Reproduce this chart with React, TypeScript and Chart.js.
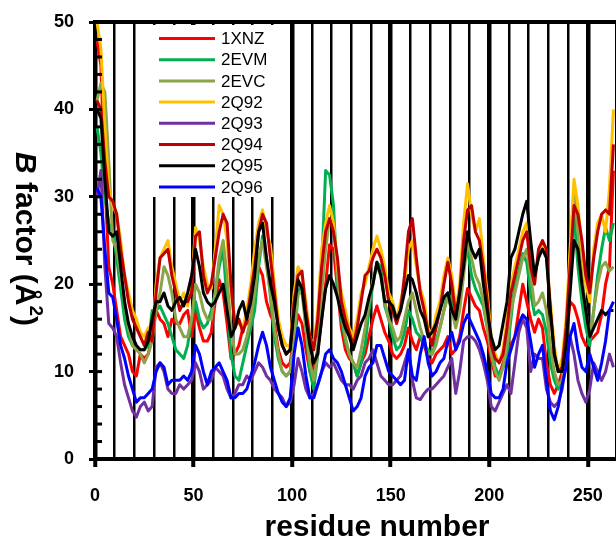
import { useEffect, useRef } from 'react';
import { Chart, registerables } from 'chart.js';

Chart.register(...registerables);

const FONT = 'Arial, "Liberation Sans", sans-serif';

const residues = [
  1, 3, 5, 7, 9, 11, 13, 15, 17, 19,
  21, 23, 25, 27, 29, 31, 33, 35, 37, 39,
  41, 43, 45, 47, 49, 51, 53, 55, 57, 59,
  61, 63, 65, 67, 69, 71, 73, 75, 77, 79,
  81, 83, 85, 87, 89, 91, 93, 95, 97, 99,
  101, 103, 105, 107, 109, 111, 113, 115, 117, 119,
  121, 123, 125, 127, 129, 131, 133, 135, 137, 139,
  141, 143, 145, 147, 149, 151, 153, 155, 157, 159,
  161, 163, 165, 167, 169, 171, 173, 175, 177, 179,
  181, 183, 185, 187, 189, 191, 193, 195, 197, 199,
  201, 203, 205, 207, 209, 211, 213, 215, 217, 219,
  221, 223, 225, 227, 229, 231, 233, 235, 237, 239,
  241, 243, 245, 247, 249, 251, 253, 255, 257, 259,
  261, 263,
];

const s1XNZ = [
  48, 45, 32, 22, 20, 17, 14, 13, 12, 10,
  9.5, 12, 11.5, 12, 14, 17, 16, 15.5, 14, 16,
  15.5, 15.5, 16.5, 17, 14, 17, 15, 13.5, 13.5, 14.5,
  18, 20.5, 19, 15.5, 11.5, 12, 13, 15, 15.5, 16,
  19, 22, 21, 18, 16.5, 15.5, 12.5, 11, 10.5, 11,
  14, 16.5, 15.5, 12.5, 10, 10.5, 12.5, 16, 20, 24.5,
  24, 19.5, 15, 12.5, 11.5, 11, 9.5, 11, 12, 14,
  16, 17.5, 16, 14.5, 13.5, 12, 11.5, 12, 13, 15,
  13.5, 12.5, 14, 13, 11.5, 11, 12, 12.5, 13, 14,
  12, 12.5, 14, 17, 19.5, 18.5, 17.5, 17, 15, 13.5,
  11.5, 9.5, 9.5, 11, 12.5, 13, 14, 17, 20, 18,
  16, 14.5, 16, 15, 11, 8.5, 7.5, 8.5, 10, 13.5,
  18, 17.5, 16, 14, 13, 13.5, 14, 14.5, 16.5, 20,
  22, 33,
];

const s2EVM = [
  38, 35, 30, 27, 26, 23, 19.5, 16, 14, 13,
  12.5, 12.5, 12.5, 13, 17, 17, 17.5, 16.5, 15.5, 14,
  12.5, 12, 11.5, 13, 16, 18, 16, 15, 15.5, 17,
  19, 22, 24, 18, 12, 9.5, 9, 11, 13, 15,
  17, 22, 25.5, 23, 18.5, 14, 11.5, 10, 9.5, 10,
  13, 19, 20, 15, 10, 8, 12, 22, 33, 32.5,
  29, 20, 16, 13.5, 12, 11, 9.5, 11, 13, 17,
  20, 22.5, 22, 17.5, 16, 14, 12.5, 13, 14.5, 17,
  16, 14.5, 14, 13, 12.5, 12, 13.5, 15, 17, 19,
  18, 16, 19, 22, 24, 21, 19.5, 18.5, 17.5, 15,
  13, 10.5, 9.5, 10.5, 12, 16, 20, 21.5, 23.5, 22.5,
  19, 16.5, 17, 16.5, 14.5, 11, 9, 8, 9, 13,
  22, 28, 22, 18, 15, 13, 17, 21, 24, 26.5,
  25, 27,
];

const s2EVC = [
  41, 43, 42, 34, 25, 24, 21, 18, 15, 13,
  12.5, 12, 11, 12, 13.5, 17, 19, 22, 21, 19,
  16, 15, 14, 14, 16, 20, 19, 17, 16, 16,
  19, 23, 25, 21, 15, 12, 12, 12.5, 14, 16,
  19, 23, 25, 22, 19, 15, 12, 10, 9.5, 10,
  14, 19, 19, 15, 11, 9, 12, 19, 24, 27.5,
  27, 21, 17, 14, 12, 11, 10.5, 12.5, 15, 18,
  20.5, 22, 21, 18, 16, 15, 13.5, 14, 16, 18,
  19, 17, 15, 13.5, 12, 12, 13, 15, 17, 18.5,
  17, 15, 17, 21, 25, 23, 21, 20, 18, 15,
  12, 10, 9, 10.5, 13, 17, 19, 21, 23, 24,
  21, 17.5, 18, 19, 17, 13, 10, 8.5, 9, 13,
  23, 31, 26, 21, 17, 14, 17, 20, 22, 22.5,
  21.5, 22,
];

const s2Q92 = [
  50, 47, 38, 31, 29, 28, 25, 21, 19, 17,
  16, 14.5, 14, 15, 14, 20, 23, 24, 25, 22,
  20, 18, 19, 17.5, 20, 26.5, 25, 22, 20, 19.5,
  24, 29, 28, 25, 19, 16, 15.5, 15, 17, 20,
  24, 27, 28.5, 26, 24.5, 20, 16, 14, 13, 13,
  19, 22, 21, 18, 14, 13, 17, 24, 27, 29,
  27, 22, 19, 17, 15, 14, 16, 19, 20, 22,
  24, 25.5, 24, 22, 19, 18, 16, 18, 20, 24,
  25, 22, 19.5, 18, 15, 14, 16.5, 18, 21, 23,
  21, 17, 20, 27, 31.5, 28, 26, 27.5, 23, 19,
  14, 12, 11, 12.5, 16, 20, 22, 24, 26, 27,
  23, 21, 23, 25, 23, 18, 13, 10, 11.5, 16,
  24, 32, 29, 24, 20, 18, 24, 27, 28, 26,
  31, 40,
];

const s2Q93 = [
  30, 33, 22, 15.5, 15, 14, 11, 8.5, 7, 5.5,
  4.8, 6, 6.5, 5.5, 6, 10.5, 11, 10, 8, 7.5,
  7.5, 8.5, 8, 8.5, 9, 11, 10, 8, 8.5, 9,
  10.5, 10, 9.5, 8, 7, 7.5, 8.5, 8.5, 9.5, 9,
  10, 11, 10.5, 9.5, 9, 8, 7.5, 7, 6, 6.5,
  8.5, 11.5, 10, 8, 7, 7.5, 8.5, 10, 11, 10.5,
  11, 10, 9, 8.5, 8.5, 8, 9, 9.5, 11, 11.5,
  12.5, 11, 9.5, 9, 8.5, 8.5, 9, 9.5, 11, 12.5,
  9, 7, 6.8, 7.5, 8, 8, 8.5, 9, 9.5, 10.5,
  11.5, 7.5, 10, 13.5, 14, 14, 13.5, 12.5, 11, 9,
  6, 5.5, 6.5, 7.5, 8.5, 7.5, 11, 14.5, 16, 15,
  10, 12, 11.5, 11.5, 8, 6.5, 6, 6.5, 8, 11,
  14, 12, 9, 7.5, 6.5, 8, 11, 10, 9, 10,
  12, 10.5,
];

const s2Q94 = [
  41, 40, 34, 30, 29.5, 28, 24, 21, 18, 16,
  15, 14, 13, 14.5, 13.5, 19, 23, 23.5, 24, 21,
  19, 17, 18, 18, 19, 25.5, 26, 21, 19, 20,
  23, 26, 28, 27, 20, 15, 16, 14.5, 16, 19,
  22, 26, 28, 27, 23, 19, 15, 13, 12, 12.5,
  18, 21, 21.5, 17, 14, 12.5, 16, 22, 26, 27.5,
  26, 23, 18, 16, 14.5, 13, 15, 18, 21, 21.5,
  23, 24, 23, 21, 18, 17, 15.5, 17, 21, 26,
  27.5, 23, 19, 17, 14.5, 13, 15, 17, 20, 22.5,
  20, 16.5, 19, 25, 28.5, 29, 26, 25, 22, 18,
  13, 11.5, 11, 12, 15, 19, 21, 23, 25, 26,
  22, 20, 24, 25, 24, 17, 12, 10, 10.5, 15,
  22, 29, 28, 25, 21, 19, 23, 26, 28, 28.5,
  28, 36,
];

const s2Q95 = [
  40, 39, 32, 26, 25.5, 26, 22, 18, 15.5, 14,
  13, 12.5, 12.5, 13.5, 16, 18, 18, 19, 17.5, 17,
  18, 18.5, 17.5, 19, 21, 24, 22, 19, 18, 17.5,
  18, 19, 20, 17, 14, 15, 17, 18, 16, 18,
  21, 26, 27, 23, 20, 18, 15, 13, 12, 12.5,
  17, 20.5, 19.5, 16, 13, 11, 12, 16, 19.5, 21,
  20, 18.5, 16.5, 15, 14, 12.5, 14, 15.5, 16.5, 18.5,
  20, 22.5, 21, 18, 18, 17.5, 16, 17, 19, 21,
  20.5, 19, 17, 16, 14, 14.5, 15.5, 17, 18.5, 19,
  17, 16, 19, 22, 26, 24, 23, 24, 20, 17,
  14, 12.5, 13, 15.5, 18, 23, 24, 26, 28, 29.5,
  25, 21, 23, 24, 23, 17, 12, 10, 10, 13,
  19, 25, 24, 20, 17, 14, 15, 16, 17, 16.5,
  17, 17,
];

const s2Q96 = [
  31, 30, 24, 19, 18.5, 16, 13, 11.5, 9.5, 8,
  6.5, 7, 7, 7.5, 8, 10, 11, 10.5, 8.5, 9,
  9, 9, 9.5, 9, 10, 13, 12, 10, 8.5, 10,
  10.5, 11, 10, 9, 7, 7, 7.5, 7.5, 8, 9.5,
  11, 13, 14.5, 13, 10.5, 9, 7.5, 6.5, 6, 7,
  12, 15, 13, 9.5, 7, 7, 8.5, 10, 12, 12.5,
  11.5, 11, 10, 8.5, 7, 5.5, 6, 7, 9.5, 10.5,
  11, 13, 13, 11.5, 10, 9.5, 9, 8.5, 9, 12.5,
  9.5, 9, 12, 14, 11, 9.5, 10, 11, 11.5, 13.5,
  14.5, 12.5, 13.5, 15.5, 16.5, 15.5, 14.5, 13.5, 12, 10,
  7.5, 7, 7, 8, 11, 12.5, 14, 15.5, 16.5, 16,
  13.5, 10.5, 12, 13, 9, 5.5, 4.5, 6, 8.5, 10.5,
  14, 15.5, 12.5, 10.5, 10, 12, 10.5, 9, 11, 13.5,
  17, 18,
];

const seriesNames = ['1XNZ', '2EVM', '2EVC', '2Q92', '2Q93', '2Q94', '2Q95', '2Q96'];
const seriesValues = [s1XNZ, s2EVM, s2EVC, s2Q92, s2Q93, s2Q94, s2Q95, s2Q96];
const seriesColors = ['#FF0000', '#00B050', '#8BA448', '#FFC000', '#7030A0', '#C00000', '#000000', '#0000FF'];

const xTickLabels = [0, 50, 100, 150, 200, 250];
const yTickLabels = [0, 10, 20, 30, 40, 50];

const decorPlugin = {
  id: 'decor',
  beforeDatasetsDraw(chart: any) {
    const ctx = chart.ctx;
    ctx.save();
    ctx.fillStyle = '#ffffff';
    ctx.fillRect(151, 25, 139, 172);
    ctx.font = `17px ${FONT}`;
    ctx.textBaseline = 'middle';
    ctx.textAlign = 'left';
    seriesNames.forEach((name, i) => {
      const y = 38.5 + i * 21.2;
      ctx.strokeStyle = seriesColors[i];
      ctx.lineWidth = 3;
      ctx.beginPath();
      ctx.moveTo(159, y);
      ctx.lineTo(215, y);
      ctx.stroke();
      ctx.fillStyle = '#000';
      ctx.fillText(name, 221, y + 1);
    });
    ctx.restore();
  },
  afterDraw(chart: any) {
    const { ctx, chartArea } = chart;
    const ys = chart.scales.y;
    ctx.save();
    ctx.fillStyle = '#000';
    // top frame
    ctx.fillRect(chartArea.left - 2, chartArea.top - 2, chartArea.right - chartArea.left + 2, 4);
    // inner tick marks on y axis
    for (let v = 0; v <= 50; v += 2) {
      const py = ys.getPixelForValue(v);
      ctx.fillRect(chartArea.left, py - 1.5, 7, 3);
    }
    // x title
    ctx.font = `bold 30px ${FONT}`;
    ctx.textAlign = 'center';
    ctx.textBaseline = 'middle';
    ctx.fillText('residue number', 377, 528);
    // y title (rotated clockwise)
    const parts = [
      { t: 'B', f: `italic bold 30px ${FONT}`, dy: 0 },
      { t: ' factor (Å', f: `bold 30px ${FONT}`, dy: 0 },
      { t: '2', f: `bold 19px ${FONT}`, dy: -11 },
      { t: ')', f: `bold 30px ${FONT}`, dy: 0 },
    ];
    let total = 0;
    const widths = parts.map((p) => {
      ctx.font = p.f;
      const w = ctx.measureText(p.t).width;
      total += w;
      return w;
    });
    ctx.translate(24, 239);
    ctx.rotate(Math.PI / 2);
    ctx.textAlign = 'left';
    let x = -total / 2;
    parts.forEach((p, i) => {
      ctx.font = p.f;
      ctx.fillText(p.t, x, p.dy);
      x += widths[i];
    });
    ctx.restore();
  },
};

export default function App() {
  const ref = useRef<HTMLCanvasElement>(null);
  useEffect(() => {
    document.body.style.margin = '0';
    const canvas = ref.current;
    if (!canvas) return;
    const chart = new Chart(canvas, {
      type: 'line',
      data: {
        datasets: seriesNames.map((name, i) => ({
          label: name,
          data: residues.map((r, j) => ({ x: r, y: seriesValues[i][j] })),
          borderColor: seriesColors[i],
          backgroundColor: seriesColors[i],
          borderWidth: 3,
          pointRadius: 0,
          tension: 0,
          borderJoinStyle: 'round',
          order: seriesNames.length - i,
        })),
      },
      options: {
        responsive: false,
        animation: false,
        devicePixelRatio: 1,
        layout: { padding: { top: 22, left: 0, right: 0, bottom: 0 } },
        plugins: { legend: { display: false }, tooltip: { enabled: false } },
        scales: {
          x: {
            type: 'linear',
            min: 0,
            max: 264.3,
            afterFit: (s: any) => {
              s.height = 84;
              s.paddingLeft = 0;
              s.paddingRight = 0;
            },
            ticks: {
              stepSize: 10,
              autoSkip: false,
              maxRotation: 0,
              padding: 18,
              color: '#000',
              font: { family: FONT, size: 18, weight: 'bold' },
              callback: (v: any) => (xTickLabels.includes(Number(v)) ? String(v) : ''),
            },
            grid: {
              color: '#000',
              lineWidth: (c: any) => (c.tick && c.tick.value % 50 === 0 ? 4.5 : 2.5),
              tickLength: 8,
              tickWidth: 4,
              tickColor: (c: any) => (c.tick && c.tick.value % 50 === 0 ? '#000' : 'rgba(0,0,0,0)'),
            },
            border: { display: true, color: '#000', width: 4 },
          },
          y: {
            min: 0,
            max: 50,
            afterFit: (s: any) => {
              s.width = 95;
              s.paddingTop = 0;
              s.paddingBottom = 0;
            },
            ticks: {
              stepSize: 2,
              autoSkip: false,
              padding: 15,
              color: '#000',
              font: { family: FONT, size: 18, weight: 'bold' },
              callback: (v: any) => (yTickLabels.includes(Number(v)) ? String(v) : ''),
            },
            grid: {
              drawOnChartArea: false,
              tickLength: 6,
              tickWidth: 3,
              tickColor: (c: any) => (c.tick && c.tick.value % 10 === 0 ? '#000' : 'rgba(0,0,0,0)'),
            },
            border: { display: true, color: '#000', width: 4 },
          },
        },
      },
      plugins: [decorPlugin],
    } as any);
    return () => chart.destroy();
  }, []);
  return (
    <canvas
      ref={ref}
      width={616}
      height={543}
      style={{ display: 'block', width: 616, height: 543 }}
    />
  );
}
